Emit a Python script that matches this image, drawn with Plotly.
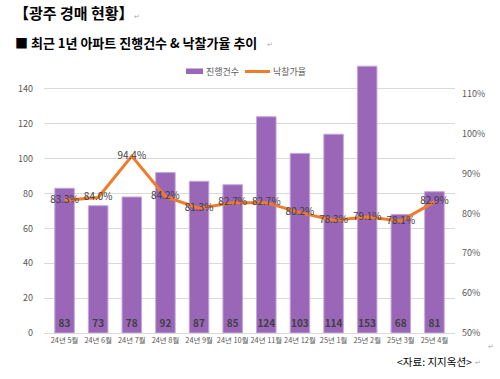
import plotly.graph_objects as go

months = ["24년 5월", "24년 6월", "24년 7월", "24년 8월", "24년 9월", "24년 10월",
          "24년 11월", "24년 12월", "25년 1월", "25년 2월", "25년 3월", "25년 4월"]
counts = [83, 73, 78, 92, 87, 85, 124, 103, 114, 153, 68, 81]
rates = [83.3, 84.0, 94.4, 84.2, 81.3, 82.7, 82.7, 80.2, 78.3, 79.1, 78.1, 82.9]

KR = "Noto Sans CJK KR"
BAR_C = "#9966b8"
LINE_C = "#f07b2a"
W, H = 500, 379
# target plot area in screen pixels
SX0, SX1, SY0, SY1 = 44, 455, 54, 333
L, R, T, B = SX0, W - SX1, SY0, H - SY1
PW, PH = W - L - R, H - T - B


def px(x):
    return (x - SX0) / PW


def py(y):
    return (SY1 - y) / PH


fig = go.Figure()
fig.add_trace(go.Bar(
    x=months, y=counts, name="진행건수",
    marker=dict(color=BAR_C, line=dict(color="#c4a6dd", width=1)),
    text=[str(c) for c in counts], textposition="inside", insidetextanchor="start",
    textfont=dict(family=KR, size=10, color="#404040", weight="bold"),
    textangle=0, cliponaxis=False, showlegend=False,
))
fig.add_trace(go.Scatter(
    x=months, y=[r / 100 for r in rates], name="낙찰가율", yaxis="y2",
    mode="lines+text", line=dict(color=LINE_C, width=3),
    text=[f"{r:.1f}%" for r in rates], textposition="middle center",
    textfont=dict(family=KR, size=10, color="#404040"),
    cliponaxis=False, showlegend=False,
))

fig.update_layout(
    width=W, height=H, margin=dict(l=L, r=R, t=T, b=B, autoexpand=False),
    paper_bgcolor="white", plot_bgcolor="white",
    bargap=0.42, showlegend=False,
    uniformtext=dict(minsize=10, mode="show"),
    font=dict(family=KR, color="#595959"),
    xaxis=dict(showgrid=False, showline=True, linecolor="#d9d9d9", ticks="",
               tickfont=dict(family=KR, size=7.4, color="#595959"), tickangle=0,
               automargin=False),
    yaxis=dict(range=[0, 160], tickvals=list(range(0, 160, 20)), showgrid=True,
               gridcolor="#d9d9d9", zeroline=False, ticks="", automargin=False,
               ticklabelstandoff=10,
               tickfont=dict(family=KR, size=9, color="#595959")),
    yaxis2=dict(range=[0.5, 1.2], tickvals=[0.5, 0.6, 0.7, 0.8, 0.9, 1.0, 1.1],
                tickformat=".0%", overlaying="y", side="right", showgrid=False,
                zeroline=False, ticks="", automargin=False, ticklabelstandoff=6,
                tickfont=dict(family=KR, size=9, color="#595959")),
)

# manual legend
fig.add_shape(type="rect", xref="paper", yref="paper",
              x0=px(186), x1=px(203), y0=py(74), y1=py(68.5),
              fillcolor=BAR_C, line=dict(width=0))
fig.add_shape(type="line", xref="paper", yref="paper",
              x0=px(245), x1=px(270), y0=py(71.5), y1=py(71.5),
              line=dict(color=LINE_C, width=3))

ann = [
    dict(text="진행건수", x=px(205), y=py(71.5), xanchor="left", yanchor="middle",
         font=dict(family=KR, size=9, color="#595959")),
    dict(text="낙찰가율", x=px(272), y=py(71.5), xanchor="left", yanchor="middle",
         font=dict(family=KR, size=9, color="#595959")),
    dict(text="<b>【광주 경매 현황】</b>", x=px(13), y=py(12.5), xanchor="left", yanchor="middle",
         font=dict(family=KR, size=15, color="black")),
    dict(text="↵", x=px(133), y=py(16), xanchor="left", yanchor="middle",
         font=dict(family=KR, size=7, color="#aaaaaa")),
    dict(text="<b>■ 최근 1년 아파트 진행건수 &amp; 낙찰가율 추이</b>", x=px(14), y=py(42),
         xanchor="left", yanchor="middle", font=dict(family=KR, size=13, color="black")),
    dict(text="↵", x=px(266), y=py(44), xanchor="left", yanchor="middle",
         font=dict(family=KR, size=7, color="#aaaaaa")),
    dict(text="<자료: 지지옥션>", x=px(473), y=py(361), xanchor="right", yanchor="middle",
         font=dict(family=KR, size=10.5, color="black")),
    dict(text="↵", x=px(474), y=py(362), xanchor="left", yanchor="middle",
         font=dict(family=KR, size=7, color="#aaaaaa")),
    dict(text="↵", x=px(487), y=py(346), xanchor="left", yanchor="middle",
         font=dict(family=KR, size=7, color="#aaaaaa")),
]
for a in ann:
    a.update(xref="paper", yref="paper", showarrow=False, borderpad=0)
fig.update_layout(annotations=ann)

fig.write_html("out.html", config={"displayModeBar": False},
               post_script="document.body.style.margin='0px';")
